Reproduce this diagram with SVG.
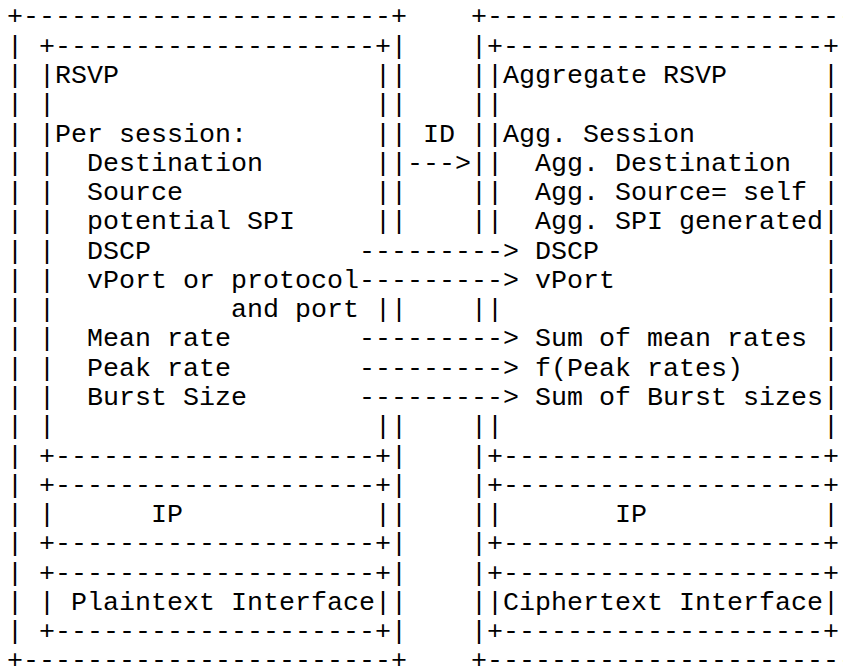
<svg xmlns="http://www.w3.org/2000/svg" width="843" height="666" viewBox="0 0 843 666" xml:space="preserve">
<style>
text{font-family:"Liberation Mono","Courier New",monospace;font-size:26.67px;fill:#000;white-space:pre}
</style>
<rect width="843" height="666" fill="#fff"/>
<g id="left-host">
<text x="7" y="24.4">+-----------------------+</text>
<text x="7" y="53.68">|</text><text x="391" y="53.68">|</text>
<text x="7" y="82.96">|</text><text x="391" y="82.96">|</text>
<text x="7" y="112.24">|</text><text x="391" y="112.24">|</text>
<text x="7" y="141.52">|</text><text x="391" y="141.52">|</text>
<text x="7" y="170.8">|</text><text x="391" y="170.8">|</text>
<text x="7" y="200.08">|</text><text x="391" y="200.08">|</text>
<text x="7" y="229.36">|</text><text x="391" y="229.36">|</text>
<text x="7" y="258.64">|</text>
<text x="7" y="287.92">|</text>
<text x="7" y="317.2">|</text><text x="391" y="317.2">|</text>
<text x="7" y="346.48">|</text>
<text x="7" y="375.76">|</text>
<text x="7" y="405.04">|</text>
<text x="7" y="434.32">|</text><text x="391" y="434.32">|</text>
<text x="7" y="463.6">|</text><text x="391" y="463.6">|</text>
<text x="7" y="492.88">|</text><text x="391" y="492.88">|</text>
<text x="7" y="522.16">|</text><text x="391" y="522.16">|</text>
<text x="7" y="551.44">|</text><text x="391" y="551.44">|</text>
<text x="7" y="580.72">|</text><text x="391" y="580.72">|</text>
<text x="7" y="610">|</text><text x="391" y="610">|</text>
<text x="7" y="639.28">|</text><text x="391" y="639.28">|</text>
<text x="7" y="667.5">+-----------------------+</text>
</g>
<g id="rsvp">
<text x="39" y="53.68">+--------------------+</text>
<text x="39" y="82.96">|RSVP                |</text>
<text x="39" y="112.24">|                    |</text>
<text x="39" y="141.52">|Per session:        |</text>
<text x="39" y="170.8">|  Destination       |</text>
<text x="39" y="200.08">|  Source            |</text>
<text x="39" y="229.36">|  potential SPI     |</text>
<text x="39" y="258.64">|  DSCP</text>
<text x="39" y="287.92">|  vPort or protocol</text>
<text x="39" y="317.2">|           and port |</text>
<text x="39" y="346.48">|  Mean rate</text>
<text x="39" y="375.76">|  Peak rate</text>
<text x="39" y="405.04">|  Burst Size</text>
<text x="39" y="434.32">|                    |</text>
<text x="39" y="463.6">+--------------------+</text>
</g>
<g id="ip-left">
<text x="39" y="492.88">+--------------------+</text>
<text x="39" y="522.16">|      IP            |</text>
<text x="39" y="551.44">+--------------------+</text>
</g>
<g id="plaintext-interface">
<text x="39" y="580.72">+--------------------+</text>
<text x="39" y="610">| Plaintext Interface|</text>
<text x="39" y="639.28">+--------------------+</text>
</g>
<g id="right-host">
<text x="471" y="24.4">+-----------------------</text>
<text x="471" y="53.68">|</text>
<text x="471" y="82.96">|</text>
<text x="471" y="112.24">|</text>
<text x="471" y="141.52">|</text>
<text x="471" y="170.8">|</text>
<text x="471" y="200.08">|</text>
<text x="471" y="229.36">|</text>
<text x="471" y="317.2">|</text>
<text x="471" y="434.32">|</text>
<text x="471" y="463.6">|</text>
<text x="471" y="492.88">|</text>
<text x="471" y="522.16">|</text>
<text x="471" y="551.44">|</text>
<text x="471" y="580.72">|</text>
<text x="471" y="610">|</text>
<text x="471" y="639.28">|</text>
<text x="471" y="667.5">+-----------------------</text>
</g>
<g id="aggregate-rsvp">
<text x="487" y="53.68">+--------------------+</text>
<text x="487" y="82.96">|Aggregate RSVP      |</text>
<text x="487" y="112.24">|                    |</text>
<text x="487" y="141.52">|Agg. Session        |</text>
<text x="487" y="170.8">|  Agg. Destination  |</text>
<text x="487" y="200.08">|  Agg. Source= self |</text>
<text x="487" y="229.36">|  Agg. SPI generated|</text>
<text x="535" y="258.64">DSCP              |</text>
<text x="535" y="287.92">vPort             |</text>
<text x="487" y="317.2">|                    |</text>
<text x="535" y="346.48">Sum of mean rates |</text>
<text x="535" y="375.76">f(Peak rates)     |</text>
<text x="535" y="405.04">Sum of Burst sizes|</text>
<text x="487" y="434.32">|                    |</text>
<text x="487" y="463.6">+--------------------+</text>
</g>
<g id="ip-right">
<text x="487" y="492.88">+--------------------+</text>
<text x="487" y="522.16">|       IP           |</text>
<text x="487" y="551.44">+--------------------+</text>
</g>
<g id="ciphertext-interface">
<text x="487" y="580.72">+--------------------+</text>
<text x="487" y="610">|Ciphertext Interface|</text>
<text x="487" y="639.28">+--------------------+</text>
</g>
<g id="connectors">
<text x="423" y="141.52">ID</text>
<text x="407" y="170.8">---&gt;</text>
<text x="359" y="258.64">---------&gt;</text>
<text x="359" y="287.92">---------&gt;</text>
<text x="359" y="346.48">---------&gt;</text>
<text x="359" y="375.76">---------&gt;</text>
<text x="359" y="405.04">---------&gt;</text>
</g>
</svg>
